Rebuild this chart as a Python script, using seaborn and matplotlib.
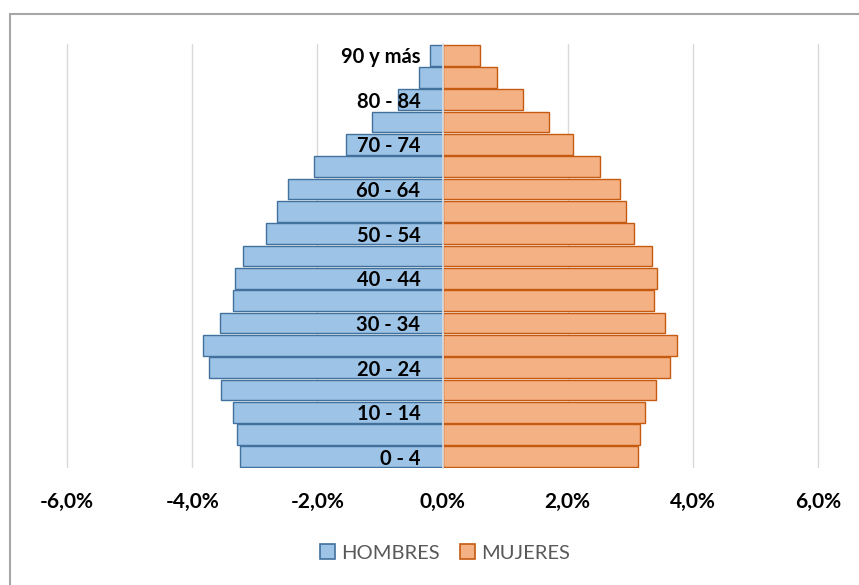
import pandas as pd
import seaborn as sns
import matplotlib.pyplot as plt
from matplotlib.patches import Rectangle
from matplotlib.ticker import FuncFormatter, MultipleLocator

# grupos de edad, de abajo hacia arriba
edades = ["0 - 4", "5 - 9", "10 - 14", "15 - 19", "20 - 24", "25 - 29", "30 - 34",
          "35 - 39", "40 - 44", "45 - 49", "50 - 54", "55 - 59", "60 - 64",
          "65 - 69", "70 - 74", "75 - 79", "80 - 84", "85 - 89", "90 y más"]
hombres = [3.23, 3.28, 3.35, 3.54, 3.74, 3.83, 3.55, 3.35, 3.31, 3.19,
           2.82, 2.64, 2.47, 2.06, 1.55, 1.12, 0.71, 0.38, 0.20]
mujeres = [3.12, 3.16, 3.24, 3.41, 3.63, 3.75, 3.55, 3.38, 3.42, 3.34,
           3.06, 2.93, 2.83, 2.51, 2.08, 1.70, 1.28, 0.87, 0.60]

df = pd.concat([
    pd.DataFrame({"edad": edades, "valor": [-v for v in hombres], "sexo": "HOMBRES"}),
    pd.DataFrame({"edad": edades, "valor": mujeres, "sexo": "MUJERES"}),
])

sns.set_style("white")
plt.rcParams["font.family"] = ["Lato", "DejaVu Sans"]

fig = plt.figure(figsize=(8.59, 5.85), dpi=100)
ax = fig.add_axes([48.3 / 859, 0.2, 788.5 / 859, 424 / 585])

colores = {"HOMBRES": "#9DC3E6", "MUJERES": "#F4B183"}
bordes = {"HOMBRES": "#41719C", "MUJERES": "#C55A11"}

sns.barplot(data=df, y="edad", x="valor", hue="sexo", order=edades[::-1],
            palette=colores, dodge=False, width=0.93, orient="h", saturation=1, ax=ax)

for cont, sexo in zip(ax.containers, ["HOMBRES", "MUJERES"]):
    for barra in cont:
        barra.set_edgecolor(bordes[sexo])
        barra.set_linewidth(1.0)

# el eje vertical va en el 0 (esto reinicia los ticks, por eso va antes)
for lado in ["top", "right", "bottom"]:
    ax.spines[lado].set_visible(False)
ax.spines["left"].set_position(("data", 0))
ax.spines["left"].set_color("#D9E4EE")
ax.spines["left"].set_linewidth(1.2)

ax.set_xlim(-6.3, 6.3)
ax.set_ylim(18.5, -0.5)
ax.xaxis.set_major_locator(MultipleLocator(2))
ax.xaxis.set_major_formatter(FuncFormatter(lambda v, p: f"{v:.1f}%".replace(".", ",")))
ax.grid(axis="x", color="#D9D9D9", linewidth=1)
ax.grid(axis="y", visible=False)
ax.xaxis.set_zorder(0.5)
ax.yaxis.set_zorder(3)

etiquetas = [e if i % 2 == 0 else "" for i, e in enumerate(edades)][::-1]
ax.set_yticks(range(len(edades)))
ax.set_yticklabels(etiquetas, fontweight="bold", fontsize=14.5, color="black")
ax.tick_params(axis="y", length=0, pad=16)
ax.tick_params(axis="x", length=0, pad=17, labelsize=15, labelcolor="black")
for t in ax.get_xticklabels():
    t.set_fontweight("bold")
ax.set_xlabel("")
ax.set_ylabel("")

handles, labels = ax.get_legend_handles_labels()
ax.get_legend().remove()
for h, l in zip(handles, labels):
    h.set_edgecolor(bordes[l])
    h.set_linewidth(1.2)
fig.legend(handles, labels, loc="center", bbox_to_anchor=(445 / 859, 1 - 553 / 585), ncol=2,
           frameon=False, handlelength=0.75, handleheight=0.75, handletextpad=0.3,
           columnspacing=1.0, labelcolor="#595959", prop={"size": 14.5})

fig.patches.append(Rectangle((10 / 859, -0.1), 1.2, 1.1 - 14 / 585, transform=fig.transFigure,
                             fill=False, edgecolor="#A6A6A6", linewidth=1.5))

plt.savefig("out.png", dpi=100)
